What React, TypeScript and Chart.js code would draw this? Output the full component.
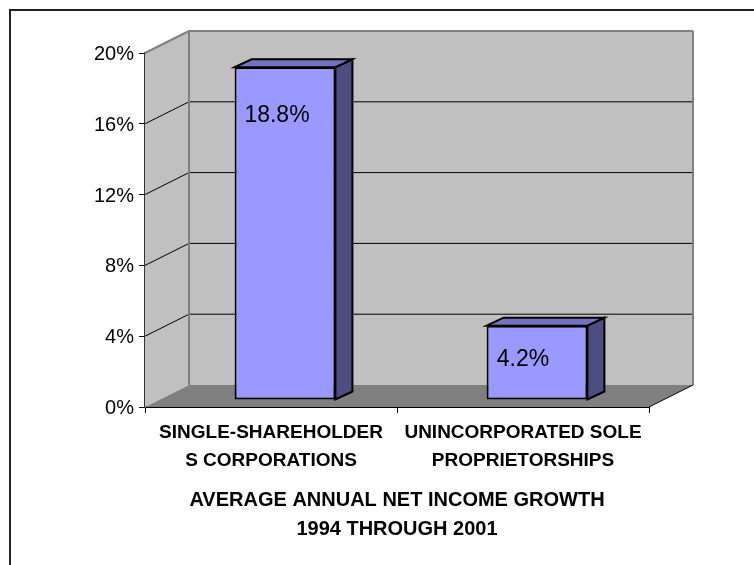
import React, { useEffect, useRef } from "react";
import { Chart, registerables } from "chart.js";

Chart.register(...registerables);

const categories = [["SINGLE-SHAREHOLDER", "S CORPORATIONS"], ["UNINCORPORATED SOLE", "PROPRIETORSHIPS"]];
const growth = [18.8, 4.2];
const valueLabels = ["18.8%", "4.2%"];
const labelAnchors = [16.45, 2.65];
const labelShifts = [6, 0];
const axisTitle = ["AVERAGE ANNUAL NET INCOME GROWTH", "1994 THROUGH 2001"];

const FONT = "'Liberation Sans', Arial, sans-serif";
const WALL_DX = 44;
const WALL_DY = -22;
const BAR_DX = 14;
const BAR_DY = -7;
const BAR_DEPTH_DX = 17;
const BAR_DEPTH_DY = -8;

const poly = (ctx: CanvasRenderingContext2D, pts: number[][], fill: string | null, stroke: string | null, lw = 1) => {
  ctx.beginPath();
  pts.forEach((p, i) => (i ? ctx.lineTo(p[0], p[1]) : ctx.moveTo(p[0], p[1])));
  ctx.closePath();
  if (fill) { ctx.fillStyle = fill; ctx.fill(); }
  if (stroke) { ctx.strokeStyle = stroke; ctx.lineWidth = lw; ctx.stroke(); }
};

const line = (ctx: CanvasRenderingContext2D, x1: number, y1: number, x2: number, y2: number, color: string, lw: number) => {
  ctx.beginPath();
  ctx.moveTo(x1, y1);
  ctx.lineTo(x2, y2);
  ctx.strokeStyle = color;
  ctx.lineWidth = lw;
  ctx.stroke();
};

const scene3d = {
  id: "scene3d",
  beforeDatasetsDraw(chart: any) {
    const { ctx, chartArea: a, scales } = chart;
    const y = scales.y;
    const dx = WALL_DX, dy = WALL_DY;
    ctx.save();
    poly(ctx, [[a.left, a.top], [a.left + dx, a.top + dy], [a.left + dx, a.bottom + dy], [a.left, a.bottom]], "#c0c0c0", null);
    poly(ctx, [[a.left + dx, a.top + dy], [a.right + dx, a.top + dy], [a.right + dx, a.bottom + dy], [a.left + dx, a.bottom + dy]], "#c0c0c0", null);
    y.ticks.forEach((t: any) => {
      if (t.value === 0 || t.value >= y.max) return;
      const py = y.getPixelForValue(t.value);
      line(ctx, a.left, py, a.left + dx, py + dy, "#000", 1);
      line(ctx, a.left + dx, py + dy, a.right + dx, py + dy, "#000", 1);
    });
    line(ctx, a.left, a.top, a.left + dx, a.top + dy, "#808080", 2);
    line(ctx, a.left + dx, a.top + dy, a.right + dx, a.top + dy, "#808080", 2);
    line(ctx, a.left + dx, a.top + dy, a.left + dx, a.bottom + dy, "#808080", 2);
    line(ctx, a.right + dx, a.top + dy, a.right + dx, a.bottom + dy, "#808080", 2);
    poly(ctx, [[a.left, a.bottom], [a.left + dx, a.bottom + dy], [a.right + dx, a.bottom + dy], [a.right, a.bottom]], "#808080", null);
    line(ctx, a.right, a.bottom, a.right + dx, a.bottom + dy, "#000", 1);
    ctx.restore();
    ctx.save();
    ctx.translate(BAR_DX, BAR_DY);
    chart.getDatasetMeta(0).data.forEach((bar: any) => {
      const l = bar.x - bar.width / 2, r = bar.x + bar.width / 2, t = bar.y, b = bar.base;
      poly(ctx, [[r, t], [r + BAR_DEPTH_DX, t + BAR_DEPTH_DY], [r + BAR_DEPTH_DX, b + BAR_DEPTH_DY], [r, b]], "#4d4d80", "#000", 2);
      poly(ctx, [[l, t], [l + BAR_DEPTH_DX, t + BAR_DEPTH_DY], [r + BAR_DEPTH_DX, t + BAR_DEPTH_DY], [r, t]], "#7373bf", "#000", 2);
    });
  },
  afterDatasetsDraw(chart: any) {
    const { ctx, scales } = chart;
    ctx.restore();
    ctx.save();
    ctx.font = `23px ${FONT}`;
    ctx.fillStyle = "#000";
    ctx.textAlign = "center";
    ctx.textBaseline = "middle";
    chart.getDatasetMeta(0).data.forEach((bar: any, i: number) => {
      ctx.fillText(valueLabels[i], bar.x + labelShifts[i], scales.y.getPixelForValue(labelAnchors[i]));
    });
    ctx.restore();
  },
};

export default function App() {
  const ref = useRef<HTMLCanvasElement>(null);
  useEffect(() => {
    document.body.style.margin = "0";
    const chart = new Chart(ref.current!, {
      type: "bar",
      data: {
        labels: categories,
        datasets: [{
          label: "Average annual net income growth",
          data: growth,
          backgroundColor: "#9999ff",
          borderColor: "#000",
          borderWidth: 2,
          borderSkipped: false,
          barPercentage: 0.4,
          categoryPercentage: 1,
          clip: false,
        } as any],
      },
      plugins: [scene3d],
      options: {
        responsive: false,
        animation: false,
        layout: { padding: { top: 53, right: 105, left: 0, bottom: 0 } },
        plugins: { legend: { display: false }, title: { display: false }, tooltip: { enabled: false } },
        scales: {
          x: {
            afterFit(s: any) { s.height = 158; },
            grid: { drawOnChartArea: false, color: "#000", tickLength: 6, offset: true },
            border: { display: true, color: "#000", width: 2 },
            ticks: { color: "#000", font: { family: FONT, size: 19, weight: "bold", lineHeight: 1.47 }, maxRotation: 0, autoSkip: false, padding: 6 },
            title: { display: true, text: axisTitle, color: "#000", font: { family: FONT, size: 20, weight: "bold", lineHeight: 1.45 }, padding: { top: 0, bottom: 21 } },
          },
          y: {
            min: 0,
            max: 20,
            afterFit(s: any) { s.width = 145; },
            afterBuildTicks(s: any) { s.ticks = [0, 4, 8, 12, 16, 20].map((value) => ({ value })); },
            grid: { drawOnChartArea: false, color: "#000", tickLength: 6 },
            border: { display: true, color: "#333", width: 2 },
            ticks: { color: "#000", font: { family: FONT, size: 20 }, padding: 5, labelOffset: 1.5, callback: (v: any) => `${v}%` },
          },
        },
      },
    } as any);
    return () => chart.destroy();
  }, []);
  return (
    <div style={{ position: "relative", width: 754, height: 565, background: "#fff", overflow: "hidden" }}>
      <canvas ref={ref} width={754} height={565} style={{ display: "block" }} />
      <div style={{ position: "absolute", left: 9, top: 9, width: 800, height: 600, border: "2px solid #222", boxSizing: "border-box", pointerEvents: "none" }} />
    </div>
  );
}
